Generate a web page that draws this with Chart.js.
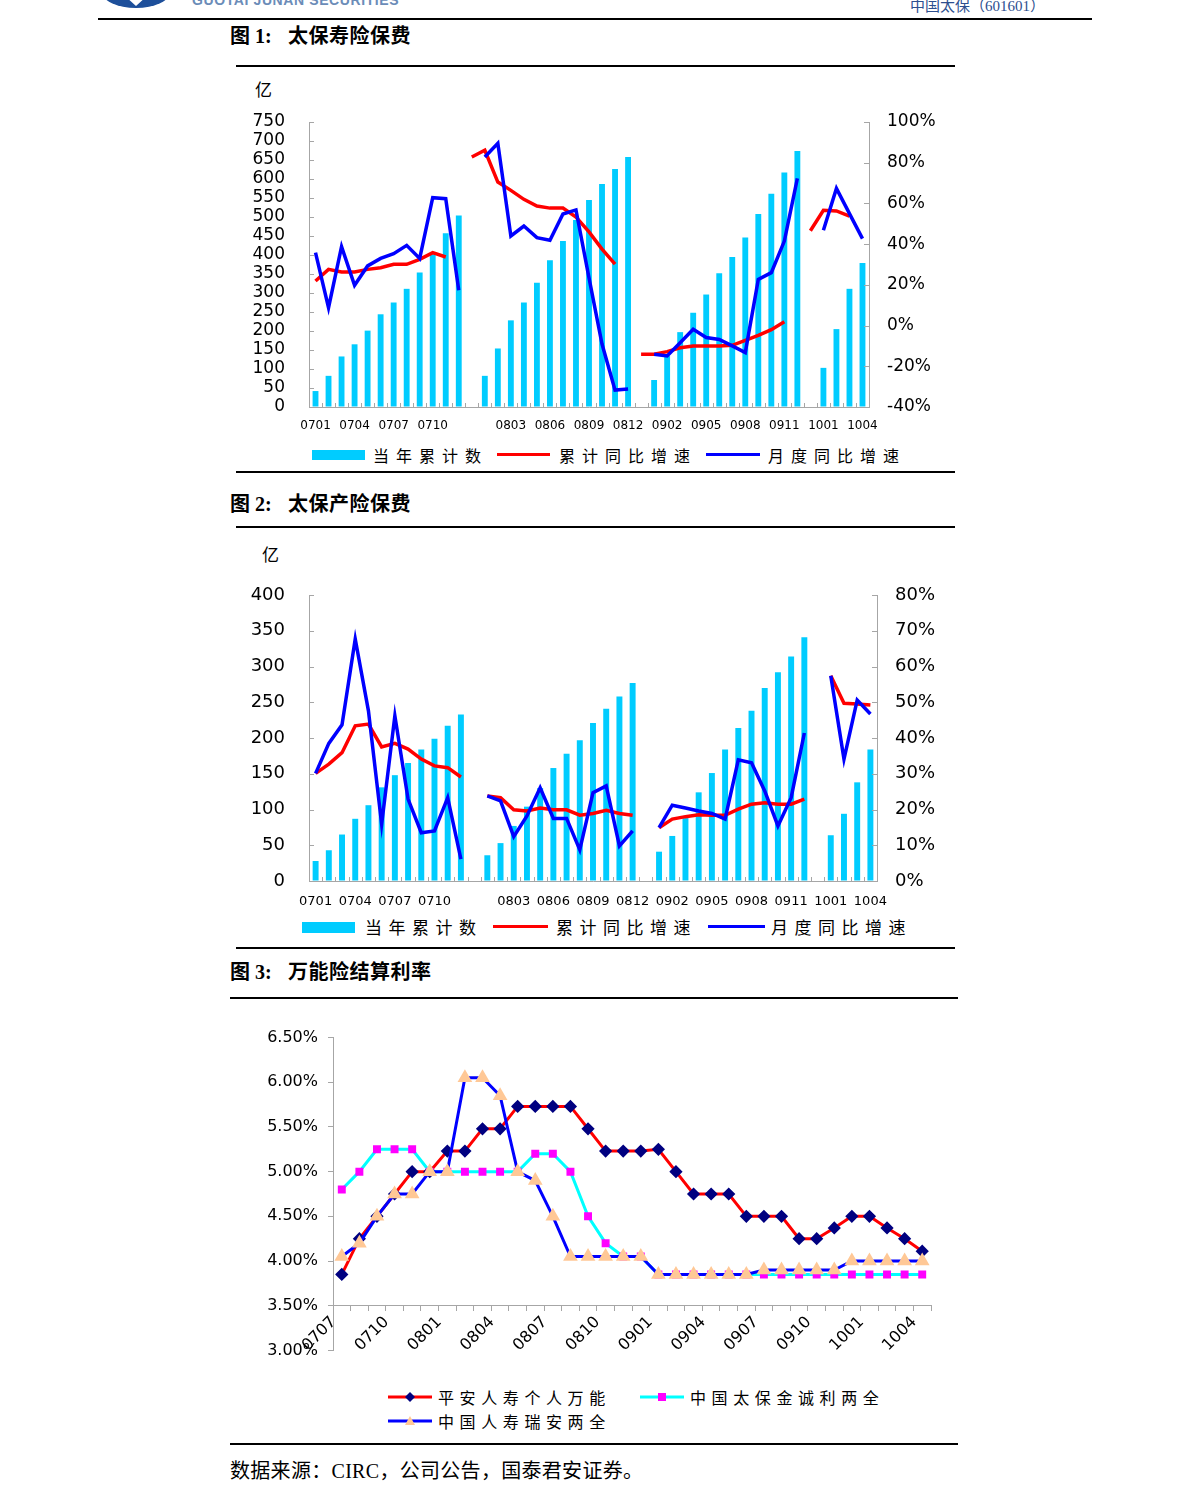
<!DOCTYPE html>
<html lang="zh">
<head>
<meta charset="utf-8">
<title>中国太保（601601）</title>
<script src="https://cdn.jsdelivr.net/npm/chart.js@4.4.1/dist/chart.umd.min.js"></script>
<style>
  body { margin: 0; background: #fff; }
  #page { position: relative; width: 1191px; height: 1503px; overflow: hidden; font-family: "Noto Sans CJK SC", sans-serif; color: #000; }
  .rule { position: absolute; height: 2px; background: #000; }
  .title { position: absolute; font-family: "Liberation Serif", "Noto Sans CJK SC", serif; font-weight: bold; font-size: 20px; line-height: 24px; white-space: pre; }
  .box { position: absolute; }
  .lg { position: absolute; font-size: 16px; line-height: 20px; letter-spacing: 7px; white-space: nowrap; }
  .sw { position: absolute; }
  .unit { position: absolute; font-size: 17px; line-height: 20px; }
</style>
</head>
<body>
<div id="page">
  <!-- header -->
  <svg class="sw" style="left:100px;top:-24px" width="72" height="33">
    <ellipse cx="36" cy="16" rx="34" ry="16" fill="#1d4f9a"/>
    <path d="M14 10 L36 30 L58 10 L50 10 L36 22 L22 10 Z" fill="#fff"/>
  </svg>
  <div class="sw" style="left:192px;top:-8px;font:bold 14px 'Liberation Sans',sans-serif;letter-spacing:0.6px;color:#6b8cb8">GUOTAI JUNAN SECURITIES</div>
  <div class="sw" style="left:910px;top:-6px;font:15px 'Liberation Serif','Noto Sans CJK SC',serif;color:#2d4f8f">中国太保（601601）</div>
  <div class="rule" style="left:98px;top:18px;width:994px"></div>

  <!-- figure 1 -->
  <div class="title" style="left:230px;top:24px">图 1:</div>
  <div class="title" style="left:288px;top:24px;letter-spacing:0.5px">太保寿险保费</div>
  <div class="rule" style="left:236px;top:65px;width:719px"></div>
  <div class="unit" style="left:255px;top:79px">亿</div>
  <div class="box" style="left:236px;top:107px;width:720px;height:330px"><canvas id="c1"></canvas></div>
  <div class="sw" style="left:312px;top:450px;width:53px;height:10px;background:#00ccff"></div>
  <div class="lg" style="left:373px;top:445px">当年累计数</div>
  <div class="sw" style="left:497px;top:453px;width:53px;height:3px;background:#ff0000"></div>
  <div class="lg" style="left:559px;top:445px">累计同比增速</div>
  <div class="sw" style="left:706px;top:453px;width:54px;height:3px;background:#0000ff"></div>
  <div class="lg" style="left:768px;top:445px">月度同比增速</div>
  <div class="rule" style="left:236px;top:471px;width:719px"></div>

  <!-- figure 2 -->
  <div class="title" style="left:230px;top:492px">图 2:</div>
  <div class="title" style="left:288px;top:492px;letter-spacing:0.5px">太保产险保费</div>
  <div class="rule" style="left:236px;top:526px;width:719px"></div>
  <div class="unit" style="left:262px;top:544px">亿</div>
  <div class="box" style="left:236px;top:581px;width:720px;height:330px"><canvas id="c2"></canvas></div>
  <div class="sw" style="left:302px;top:922px;width:53px;height:11px;background:#00ccff"></div>
  <div class="lg" style="left:365px;top:917px;font-size:17px;letter-spacing:6.5px">当年累计数</div>
  <div class="sw" style="left:493px;top:925px;width:55px;height:3px;background:#ff0000"></div>
  <div class="lg" style="left:556px;top:917px;font-size:17px;letter-spacing:6.5px">累计同比增速</div>
  <div class="sw" style="left:708px;top:925px;width:57px;height:3px;background:#0000ff"></div>
  <div class="lg" style="left:771px;top:917px;font-size:17px;letter-spacing:6.5px">月度同比增速</div>
  <div class="rule" style="left:236px;top:947px;width:719px"></div>

  <!-- figure 3 -->
  <div class="title" style="left:230px;top:960px">图 3:</div>
  <div class="title" style="left:288px;top:960px;letter-spacing:0.5px">万能险结算利率</div>
  <div class="rule" style="left:230px;top:997px;width:728px"></div>
  <div class="box" style="left:236px;top:1018px;width:720px;height:352px"><canvas id="c3"></canvas></div>
  <svg class="sw" style="left:388px;top:1390px" width="46" height="14">
    <line x1="0" y1="7" x2="44" y2="7" stroke="#ff0000" stroke-width="3"/>
    <path d="M22 2 L27 7 L22 12 L17 7 Z" fill="#000080"/>
  </svg>
  <div class="lg" style="left:438px;top:1387px;letter-spacing:5.6px">平安人寿个人万能</div>
  <svg class="sw" style="left:640px;top:1390px" width="46" height="14">
    <line x1="0" y1="7" x2="44" y2="7" stroke="#00ffff" stroke-width="3"/>
    <rect x="18" y="3" width="8" height="8" fill="#ff00ff"/>
  </svg>
  <div class="lg" style="left:690px;top:1387px;letter-spacing:5.6px">中国太保金诚利两全</div>
  <svg class="sw" style="left:388px;top:1414px" width="46" height="14">
    <line x1="0" y1="7" x2="44" y2="7" stroke="#0000ff" stroke-width="3"/>
    <path d="M22 2 L27 11 L17 11 Z" fill="#ffc896"/>
  </svg>
  <div class="lg" style="left:438px;top:1411px;letter-spacing:5.6px">中国人寿瑞安两全</div>
  <div class="rule" style="left:230px;top:1443px;width:728px"></div>

  <div class="sw" style="left:230px;top:1459px;font:20px 'Liberation Serif','Noto Sans CJK SC',serif;line-height:24px;letter-spacing:0.3px">数据来源：CIRC，公司公告，国泰君安证券。</div>
</div>

<script>
const AXIS = '#a6a6a6';
const BAR = '#00ccff';
const RED = '#ff0000';
const BLUE = '#0000ff';

// month slots for the premium charts, '' = blank slot between years
const months = ['0701', '0702', '0703', '0704', '0705', '0706', '0707', '0708', '0709', '0710', '0711', '0712', '',
    '0801', '0802', '0803', '0804', '0805', '0806', '0807', '0808', '0809', '0810', '0811', '0812', '',
    '0901', '0902', '0903', '0904', '0905', '0906', '0907', '0908', '0909', '0910', '0911', '0912', '',
    '1001', '1002', '1003', '1004'];
const monthTicks = ['0701', '0704', '0707', '0710', '0803', '0806', '0809', '0812',
    '0902', '0905', '0908', '0911', '1001', '1004'];

// 图1 寿险
const lifeTotal = [42, 82, 133, 165, 201, 244, 275, 311, 354, 402, 457, 504, null,
    82, 154, 228, 275, 327, 386, 437, 492, 545, 587, 626, 658, null,
    71, 134, 197, 248, 296, 352, 395, 446, 508, 561, 617, 674, null,
    103, 205, 311, 379];
const lifeCumYoy = [21.9, 27.6, 26.3, 26.3, 27.6, 28.4, 30.1, 30.1, 32.5, 35.8, 33.7, null,
    82.8, 86.1, 70.5, 66.4, 62, 58.7, 57.7, 57.7, 53.3, 46, 37.6, 30.2, null,
    -14.1, -14.1, -12.8, -10.9, -10, -10, -10, -9.7, -7.3, -4.8, -2, 1.9, null,
    46.6, 56.6, 56.3, 53.8, null];
const lifeMonthYoy = [35.8, 8.8, 38.8, 19.8, 29.3, 33, 35.3, 39.4, 33, 62.8, 62.3, 17.3, null,
    82.8, 89.5, 44, 48.9, 43.2, 41.9, 54.8, 56.8, 23.4, -9.1, -31.7, -31.2, null,
    -14.1, -14.9, -8.4, -1.8, -5.9, -6.8, -10, -13.3, 22.7, 26, 41.5, 72.3, null,
    46.8, 67.4, 55, 42.7];

// 图2 产险
const propTotal = [28, 43, 65, 87, 106, 131, 148, 165, 184, 199, 217, 233, null,
    36, 53, 77, 104, 130, 158, 178, 197, 221, 241, 258, 277, null,
    41, 63, 88, 124, 151, 184, 214, 238, 270, 292, 314, 341, null,
    64, 94, 138, 184];
const propCumYoy = [30.1, 32.7, 35.9, 43.4, 43.9, 37.5, 38.5, 36.9, 34.1, 32.2, 31.7, 29.1, null,
    23.8, 23.3, 19.9, 19.6, 20.4, 19.9, 19.9, 18.4, 18.9, 19.8, 18.9, 18.4, null,
    14.9, 17.3, 18, 18.5, 18.4, 18.4, 20.1, 21.5, 21.9, 21.5, 21.5, 22.9, null,
    57.4, 49.7, 49.5, 49.2];
const propMonthYoy = [30.1, 38.5, 43.7, 67.7, 47.6, 15.9, 46.2, 22.9, 13.5, 14, 23.3, 6.1, null,
    23.8, 22.4, 12.4, 18.2, 26.1, 17.5, 17.5, 8.7, 24.7, 26.6, 9.8, 14, null,
    14.9, 21.2, 20.4, 19.6, 18.9, 17.3, 33.9, 33.1, 25.2, 15.4, 23.3, 41.4, null,
    57.4, 34.1, 50.6, 46.7];

// 图3 万能险结算利率 (%)
const rateMonths = ['0707', '0708', '0709', '0710', '0711', '0712',
    '0801', '0802', '0803', '0804', '0805', '0806', '0807', '0808', '0809', '0810', '0811', '0812',
    '0901', '0902', '0903', '0904', '0905', '0906', '0907', '0908', '0909', '0910', '0911', '0912',
    '1001', '1002', '1003', '1004'];
const rateTicks = ['0707', '0710', '0801', '0804', '0807', '0810', '0901', '0904', '0907', '0910', '1001', '1004'];
const pinganRate = [3.85, 4.25, 4.5, 4.75, 5.0, 5.0,
    5.23, 5.23, 5.48, 5.48, 5.73, 5.73, 5.73, 5.73, 5.48, 5.23, 5.23, 5.23,
    5.25, 5.0, 4.75, 4.75, 4.75, 4.5, 4.5, 4.5, 4.25, 4.25, 4.37, 4.5,
    4.5, 4.37, 4.25, 4.11];
const cpicRate = [4.8, 5.0, 5.25, 5.25, 5.25, 5.0,
    5.0, 5.0, 5.0, 5.0, 5.0, 5.2, 5.2, 5.0, 4.5, 4.2, 4.05, 4.05,
    3.85, 3.85, 3.85, 3.85, 3.85, 3.85, 3.85, 3.85, 3.85, 3.85, 3.85, 3.85,
    3.85, 3.85, 3.85, 3.85];
const chinaLifeRate = [4.05, 4.2, 4.5, 4.75, 4.75, 5.0,
    5.0, 6.05, 6.05, 5.85, 5.0, 4.9, 4.5, 4.05, 4.05, 4.05, 4.05, 4.05,
    3.85, 3.85, 3.85, 3.85, 3.85, 3.85, 3.9, 3.9, 3.9, 3.9, 3.9, 4.0,
    4.0, 4.0, 4.0, 4.0];

Chart.defaults.color = '#000';
Chart.defaults.animation = false;

// small tick marks pointing into the plot, like the original
const innerTicks = {
    id: 'innerTicks',
    afterDraw(chart) {
        const ctx = chart.ctx;
        ctx.save();
        ctx.strokeStyle = AXIS;
        ctx.lineWidth = 1;
        ['y', 'y1'].forEach(id => {
            const s = chart.scales[id];
            const x0 = s.position === 'left' ? s.right : s.left;
            const dir = s.position === 'left' ? 1 : -1;
            s.ticks.forEach((t, i) => {
                const y = Math.round(s.getPixelForTick(i)) + 0.5;
                ctx.beginPath();
                ctx.moveTo(x0, y);
                ctx.lineTo(x0 + dir * 5, y);
                ctx.stroke();
            });
        });
        const sx = chart.scales.x;
        const n = sx.getLabels().length;
        for (let i = 1; i < n; i++) {
            const x = Math.round(sx.left + i * sx.width / n) + 0.5;
            ctx.beginPath();
            ctx.moveTo(x, sx.top);
            ctx.lineTo(x, sx.top - 4);
            ctx.stroke();
        }
        ctx.restore();
    }
};

function premiumChart(id, total, cumYoy, monthYoy, opt) {
    const ctx = document.getElementById(id).getContext('2d');
    return new Chart(ctx, {
        type: 'bar',
        data: {
            labels: months,
            datasets: [
                { type: 'line', label: '月度同比增速', data: monthYoy, yAxisID: 'y1', borderColor: BLUE, borderWidth: 3.5, pointRadius: 0, order: 1, spanGaps: false },
                { type: 'line', label: '累计同比增速', data: cumYoy, yAxisID: 'y1', borderColor: RED, borderWidth: 3.5, pointRadius: 0, order: 2, spanGaps: false },
                { label: '当年累计数', data: total, yAxisID: 'y', backgroundColor: BAR, barPercentage: 0.45, categoryPercentage: 1, order: 3 }
            ]
        },
        options: {
            responsive: true,
            maintainAspectRatio: false,
            layout: { padding: { top: opt.top, left: 0, right: 0, bottom: 0 } },
            plugins: { legend: { display: false }, tooltip: { enabled: false } },
            scales: {
                x: {
                    offset: true,
                    grid: { display: false },
                    border: { color: AXIS },
                    ticks: {
                        autoSkip: false, maxRotation: 0, padding: opt.xPad,
                        font: { family: 'DejaVu Sans', size: opt.xFont },
                        callback(v) { const l = this.getLabelForValue(v); return monthTicks.includes(l) ? l : ''; }
                    },
                    afterFit(s) { s.height = 30; }
                },
                y: {
                    position: 'left', min: 0, max: opt.yMax,
                    // invisible tick length keeps the labels off the axis without adding top padding
                    grid: { drawOnChartArea: false, tickLength: 24, tickColor: 'rgba(0,0,0,0)' },
                    border: { color: AXIS },
                    ticks: { stepSize: opt.yStep, autoSkip: false, padding: 0, font: { family: 'DejaVu Sans', size: opt.yFont } },
                    afterFit(s) { s.width = 73; }
                },
                y1: {
                    position: 'right', min: opt.rMin, max: opt.rMax,
                    grid: { drawOnChartArea: false, tickLength: 18, tickColor: 'rgba(0,0,0,0)' },
                    border: { color: AXIS },
                    ticks: { stepSize: opt.rStep, autoSkip: false, padding: 0, font: { family: 'DejaVu Sans', size: opt.yFont }, callback: v => v + '%' },
                    afterFit(s) { s.width = opt.rWidth; }
                }
            }
        },
        plugins: [innerTicks]
    });
}

premiumChart('c1', lifeTotal, lifeCumYoy, lifeMonthYoy,
    { top: 15, yMax: 750, yStep: 50, rMin: -40, rMax: 100, rStep: 20, rWidth: 87, yFont: 17, xFont: 12, xPad: 4 });
premiumChart('c2', propTotal, propCumYoy, propMonthYoy,
    { top: 14, yMax: 400, yStep: 50, rMin: 0, rMax: 80, rStep: 10, rWidth: 79, yFont: 18, xFont: 13, xPad: 5 });

// 图3
new Chart(document.getElementById('c3').getContext('2d'), {
    type: 'line',
    data: {
        labels: rateMonths,
        datasets: [
            { label: '平安人寿个人万能', data: pinganRate, borderColor: RED, borderWidth: 3, pointStyle: 'rectRot', pointRadius: 4.5, pointBackgroundColor: '#000080', pointBorderColor: '#000080', order: 3 },
            { label: '中国太保金诚利两全', data: cpicRate, borderColor: '#00ffff', borderWidth: 3, pointStyle: 'rect', pointRadius: 3.5, pointBackgroundColor: '#ff00ff', pointBorderColor: '#ff00ff', order: 2 },
            { label: '中国人寿瑞安两全', data: chinaLifeRate, borderColor: BLUE, borderWidth: 3, pointStyle: 'triangle', pointRadius: 5.5, pointBackgroundColor: '#ffc896', pointBorderColor: '#ffc896', order: 1 }
        ]
    },
    options: {
        responsive: true,
        maintainAspectRatio: false,
        layout: { padding: { top: 18, left: 0, right: 25, bottom: 19 } },
        plugins: { legend: { display: false }, tooltip: { enabled: false } },
        scales: {
            x: {
                position: { y: 3.5 },
                offset: true,
                grid: { offset: true, drawOnChartArea: false, tickLength: 5, color: AXIS },
                border: { color: AXIS },
                ticks: {
                    autoSkip: false, minRotation: 45, maxRotation: 45, labelOffset: -8, padding: 2,
                    font: { family: 'DejaVu Sans', size: 16 },
                    callback(v) { const l = this.getLabelForValue(v); return rateTicks.includes(l) ? l : ''; }
                },
                afterFit(s) { s.height = 0; }
            },
            y: {
                min: 3, max: 6.5,
                grid: { drawOnChartArea: false, tickLength: 5, color: AXIS },
                border: { color: AXIS },
                ticks: { stepSize: 0.5, autoSkip: false, padding: 10, font: { family: 'DejaVu Sans', size: 16 }, callback: v => v.toFixed(2) + '%' },
                afterFit(s) { s.width = 97; }
            }
        }
    }
});
</script>
</body>
</html>
